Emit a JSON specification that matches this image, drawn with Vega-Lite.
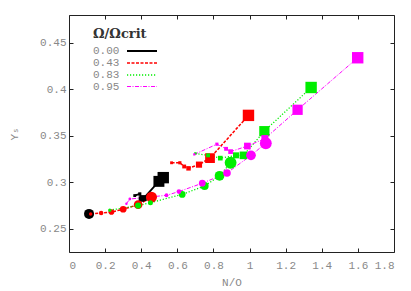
{
  "$schema": "https://vega.github.io/schema/vega-lite/v6.json",
  "width": 325,
  "height": 237,
  "autosize": "none",
  "padding": {"left": 69, "top": 15, "right": 17, "bottom": 39},
  "config": {
    "view": {"stroke": "#222", "strokeWidth": 1},
    "font": "Liberation Mono",
    "axis": {
      "grid": false, "domain": false, "tickColor": "#222", "tickSize": -4,
      "labelColor": "#888", "labelFont": "Liberation Mono, DejaVu Sans Mono, monospace", "labelFontSize": 11,
      "titleFont": "Liberation Mono, DejaVu Sans Mono, monospace", "titleFontWeight": "normal", "titleColor": "#888", "titleFontSize": 11
    }
  },
  "data": {"values": [
    {"rot": "0.00", "seg": "b1", "i": 1, "x": 0.111, "y": 0.266, "shape": "c", "sz": 100},
    {"rot": "0.00", "seg": "b2", "i": 1, "x": 0.364, "y": 0.2857, "shape": "s", "sz": 8},
    {"rot": "0.00", "seg": "b2", "i": 2, "x": 0.392, "y": 0.2875, "shape": "s", "sz": 10},
    {"rot": "0.00", "seg": "b2", "i": 3, "x": 0.401, "y": 0.282, "shape": "s", "sz": 30},
    {"rot": "0.00", "seg": "b2", "i": 4, "x": 0.414, "y": 0.283, "shape": "s", "sz": 36},
    {"rot": "0.00", "seg": "b2", "i": 5, "x": 0.498, "y": 0.301, "shape": "s", "sz": 120},
    {"rot": "0.00", "seg": "b2", "i": 6, "x": 0.522, "y": 0.305, "shape": "s", "sz": 130},
    {"rot": "0.43", "seg": "r1", "i": 1, "x": 0.12, "y": 0.266, "shape": "c", "sz": 12},
    {"rot": "0.43", "seg": "r1", "i": 2, "x": 0.178, "y": 0.267, "shape": "c", "sz": 20},
    {"rot": "0.43", "seg": "r1", "i": 3, "x": 0.235, "y": 0.268, "shape": "c", "sz": 32},
    {"rot": "0.43", "seg": "r1", "i": 4, "x": 0.30, "y": 0.271, "shape": "c", "sz": 45},
    {"rot": "0.43", "seg": "r1", "i": 5, "x": 0.383, "y": 0.276, "shape": "c", "sz": 75},
    {"rot": "0.43", "seg": "r1", "i": 6, "x": 0.457, "y": 0.284, "shape": "c", "sz": 120},
    {"rot": "0.43", "seg": "r2", "i": 1, "x": 0.568, "y": 0.321, "shape": "s", "sz": 8},
    {"rot": "0.43", "seg": "r2", "i": 2, "x": 0.614, "y": 0.321, "shape": "s", "sz": 10},
    {"rot": "0.43", "seg": "r2", "i": 3, "x": 0.638, "y": 0.317, "shape": "s", "sz": 15},
    {"rot": "0.43", "seg": "r2", "i": 4, "x": 0.662, "y": 0.315, "shape": "s", "sz": 20},
    {"rot": "0.43", "seg": "r2", "i": 5, "x": 0.72, "y": 0.319, "shape": "s", "sz": 38},
    {"rot": "0.43", "seg": "r2", "i": 6, "x": 0.781, "y": 0.326, "shape": "s", "sz": 95},
    {"rot": "0.43", "seg": "r2", "i": 7, "x": 0.994, "y": 0.372, "shape": "s", "sz": 130},
    {"rot": "0.83", "seg": "g1", "i": 1, "x": 0.226, "y": 0.270, "shape": "c", "sz": 12},
    {"rot": "0.83", "seg": "g1", "i": 2, "x": 0.383, "y": 0.275, "shape": "c", "sz": 38},
    {"rot": "0.83", "seg": "g1", "i": 3, "x": 0.451, "y": 0.278, "shape": "c", "sz": 25},
    {"rot": "0.83", "seg": "g1", "i": 4, "x": 0.627, "y": 0.287, "shape": "c", "sz": 45},
    {"rot": "0.83", "seg": "g1", "i": 5, "x": 0.751, "y": 0.296, "shape": "c", "sz": 65},
    {"rot": "0.83", "seg": "g1", "i": 6, "x": 0.834, "y": 0.307, "shape": "c", "sz": 95},
    {"rot": "0.83", "seg": "g1", "i": 7, "x": 0.895, "y": 0.321, "shape": "c", "sz": 140},
    {"rot": "0.83", "seg": "g2", "i": 1, "x": 0.70, "y": 0.331, "shape": "s", "sz": 6},
    {"rot": "0.83", "seg": "g2", "i": 2, "x": 0.77, "y": 0.329, "shape": "s", "sz": 15},
    {"rot": "0.83", "seg": "g2", "i": 3, "x": 0.838, "y": 0.326, "shape": "s", "sz": 22},
    {"rot": "0.83", "seg": "g2", "i": 4, "x": 0.925, "y": 0.329, "shape": "s", "sz": 36},
    {"rot": "0.83", "seg": "g2", "i": 5, "x": 0.966, "y": 0.329, "shape": "s", "sz": 58},
    {"rot": "0.83", "seg": "g2", "i": 6, "x": 1.082, "y": 0.355, "shape": "s", "sz": 105},
    {"rot": "0.83", "seg": "g2", "i": 7, "x": 1.341, "y": 0.402, "shape": "s", "sz": 130},
    {"rot": "0.95", "seg": "m1", "i": 1, "x": 0.318, "y": 0.277, "shape": "c", "sz": 6},
    {"rot": "0.95", "seg": "m1", "i": 2, "x": 0.337, "y": 0.282, "shape": "c", "sz": 8},
    {"rot": "0.95", "seg": "m1", "i": 3, "x": 0.54, "y": 0.286, "shape": "c", "sz": 15},
    {"rot": "0.95", "seg": "m1", "i": 4, "x": 0.609, "y": 0.290, "shape": "c", "sz": 22},
    {"rot": "0.95", "seg": "m1", "i": 5, "x": 0.738, "y": 0.299, "shape": "c", "sz": 45},
    {"rot": "0.95", "seg": "m1", "i": 6, "x": 0.875, "y": 0.310, "shape": "c", "sz": 58},
    {"rot": "0.95", "seg": "m1", "i": 7, "x": 1.008, "y": 0.329, "shape": "c", "sz": 95},
    {"rot": "0.95", "seg": "m1", "i": 8, "x": 1.09, "y": 0.342, "shape": "c", "sz": 140},
    {"rot": "0.95", "seg": "m2", "i": 1, "x": 0.694, "y": 0.330, "shape": "s", "sz": 5},
    {"rot": "0.95", "seg": "m2", "i": 2, "x": 0.819, "y": 0.341, "shape": "s", "sz": 10},
    {"rot": "0.95", "seg": "m2", "i": 3, "x": 0.87, "y": 0.336, "shape": "s", "sz": 15},
    {"rot": "0.95", "seg": "m2", "i": 4, "x": 0.895, "y": 0.333, "shape": "s", "sz": 22},
    {"rot": "0.95", "seg": "m2", "i": 5, "x": 0.988, "y": 0.339, "shape": "s", "sz": 45},
    {"rot": "0.95", "seg": "m2", "i": 6, "x": 1.085, "y": 0.347, "shape": "s", "sz": 50},
    {"rot": "0.95", "seg": "m2", "i": 7, "x": 1.266, "y": 0.378, "shape": "s", "sz": 105},
    {"rot": "0.95", "seg": "m2", "i": 8, "x": 1.599, "y": 0.434, "shape": "s", "sz": 130}
  ]},
  "layer": [
    {
      "mark": {"type": "line", "clip": true},
      "encoding": {
        "x": {"field": "x", "type": "quantitative", "scale": {"domain": [0, 1.8], "nice": false},
              "axis": {"values": [0, 0.2, 0.4, 0.6, 0.8, 1, 1.2, 1.4, 1.6, 1.8], "format": "~g", "title": "N/O", "labelPadding": 11, "titlePadding": 6}},
        "y": {"field": "y", "type": "quantitative", "scale": {"domain": [0.225, 0.48], "nice": false, "zero": false},
              "axis": {"values": [0.25, 0.3, 0.35, 0.4, 0.45], "format": "~g", "title": "Yₛ", "labelPadding": 7, "titlePadding": 20}},
        "detail": {"field": "seg"},
        "order": {"field": "i"},
        "color": {"field": "rot", "type": "nominal",
                  "scale": {"domain": ["0.00", "0.43", "0.83", "0.95"], "range": ["#000000", "#ff0000", "#00ee00", "#ff00ff"]},
                  "legend": {"title": "Ω/Ωcrit", "orient": "none", "legendX": 24, "legendY": 13,
                             "symbolType": "M-2.5,0H2.5", "symbolSize": 144, "symbolStrokeWidth": 1.5,
                             "symbolOffset": 42, "labelAlign": "left", "labelOffset": -56, "labelFontSize": 11, "labelColor": "#888",
                             "labelFont": "Liberation Mono, DejaVu Sans Mono, monospace", "titleFont": "DejaVu Serif", "titleFontSize": 13,
                             "titleColor": "#333", "titleFontWeight": "bold", "rowPadding": 0, "titlePadding": 3}},
        "strokeDash": {"field": "rot", "type": "nominal",
                       "scale": {"domain": ["0.00", "0.43", "0.83", "0.95"], "range": [[1, 0], [3, 1.5], [1.2, 1.8], [4, 1.5, 1, 1.5]]}},
        "strokeWidth": {"field": "rot", "type": "nominal", "legend": null,
                        "scale": {"domain": ["0.00", "0.43", "0.83", "0.95"], "range": [1.8, 1, 1.5, 1]}}
      }
    },
    {
      "mark": {"type": "point", "filled": true, "opacity": 1, "clip": true},
      "encoding": {
        "x": {"field": "x", "type": "quantitative", "axis": {"orient": "top", "labels": false, "title": null, "values": [0, 0.2, 0.4, 0.6, 0.8, 1, 1.2, 1.4, 1.6, 1.8]}},
        "y": {"field": "y", "type": "quantitative", "axis": {"orient": "right", "labels": false, "title": null, "values": [0.25, 0.3, 0.35, 0.4, 0.45]}},
        "color": {"field": "rot", "type": "nominal", "legend": null},
        "shape": {"field": "shape", "type": "nominal", "legend": null, "scale": {"domain": ["c", "s"], "range": ["circle", "square"]}},
        "size": {"field": "sz", "type": "quantitative", "scale": null}
      }
    }
  ],
  "resolve": {"axis": {"x": "independent", "y": "independent"}}
}
